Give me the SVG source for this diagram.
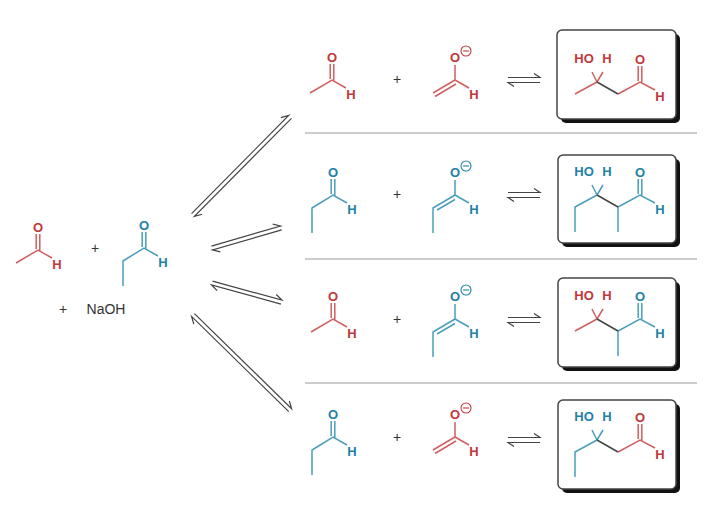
<svg xmlns="http://www.w3.org/2000/svg" xmlns:xlink="http://www.w3.org/1999/xlink" width="728" height="529" viewBox="0 0 728 529">
<style>
text{font-family:"Liberation Sans",Arial,sans-serif;text-anchor:middle}
.a{font-weight:bold;font-size:13px}
.r{fill:#c0393b}.t{fill:#1f82a6}
.br{stroke:#d0605f;stroke-width:1.5;fill:none}
.bt{stroke:#4a9dbb;stroke-width:1.5;fill:none}
.bk{stroke:#444;stroke-width:1.5;fill:none}
.eq{stroke:#444;stroke-width:1.2;fill:none}
.sep{stroke:#999;stroke-width:1}
.box{fill:#fff;stroke:#444;stroke-width:1.5}
.sh{fill:#111}
.plain{font-size:14px;fill:#333}
.mc{fill:none;stroke-width:1.1}
</style>
<defs>
<g id="aldR"><path class="br" d="M-22,13L0,0L14,8M-1.8,-1V-16M1.8,1V-16"/><text class="a r" x="0" y="-18.5">O</text><text class="a r" x="19" y="19">H</text></g>
<g id="aldT"><path class="bt" d="M-21,38V13L0,0L14,8M-1.8,-1V-16M1.8,1V-16"/><text class="a t" x="0" y="-18.5">O</text><text class="a t" x="19" y="19">H</text></g>
<g id="enR"><path class="br" d="M-22,13L0,0M-20,16.5L1,4M0,0V-15M0,0L14,8"/><text class="a r" x="0" y="-18.5">O</text><circle class="mc" cx="11" cy="-29" r="5" stroke="#c0393b"/><path d="M8,-29H14" stroke="#c0393b" stroke-width="1.1"/><text class="a r" x="19" y="19">H</text></g>
<g id="enT"><path class="bt" d="M-22,38V13L0,0M-18,15L0,4.5M0,0V-15M0,0L14,8"/><text class="a t" x="0" y="-18.5">O</text><circle class="mc" cx="11" cy="-29" r="5" stroke="#1f82a6"/><path d="M8,-29H14" stroke="#1f82a6" stroke-width="1.1"/><text class="a t" x="19" y="19">H</text></g>
<g id="eqs"><path class="eq" d="M0,-2.5H32L26,-6.5M32,2.5H0L6,6.5"/></g>
</defs>

<g id="start">
<use xlink:href="#aldR" x="38" y="250"/>
<text class="plain" x="95" y="253">+</text>
<use xlink:href="#aldT" x="144" y="248"/>
<text class="plain" x="63" y="314">+</text>
<text class="plain" x="106" y="314">NaOH</text>
</g>

<g id="connectors">
<g transform="translate(193,215) rotate(-45.3)"><path class="eq" d="M0,-2H138L131,-6M138,2H0L7,6"/></g>
<g transform="translate(212,248) rotate(-16.2)"><path class="eq" d="M0,-2H72L65,-6M72,2H0L7,6"/></g>
<g transform="translate(212,283) rotate(15.4)"><path class="eq" d="M0,-2H72L65,-6M72,2H0L7,6"/></g>
<g transform="translate(193,315) rotate(44.4)"><path class="eq" d="M0,-2H136L129,-6M136,2H0L7,6"/></g>
<use xlink:href="#eqs" x="508" y="80"/>
<use xlink:href="#eqs" x="508" y="195"/>
<use xlink:href="#eqs" x="508" y="320"/>
<use xlink:href="#eqs" x="508" y="440"/>
<path class="sep" d="M305,133H697M305,259H697M305,383H697"/>
</g>

<g id="row1">
<use xlink:href="#aldR" x="332" y="80"/>
<text class="plain" x="397" y="84">+</text>
<use xlink:href="#enR" x="455" y="80"/>
<rect class="sh" x="561" y="34" width="119" height="89" rx="5"/>
<rect class="box" x="557" y="30" width="119" height="89" rx="5"/>
<g transform="translate(597,82)">
<path class="br" d="M-22,12L0,0M0,0L-5,-10M0,0L6,-10M21,12L43,0L58,8M41.2,-1V-16M44.8,1V-16"/>
<path class="bk" d="M0,0L21,12"/>
<text class="a r" x="-13" y="-19">HO</text><text class="a r" x="10" y="-19">H</text><text class="a r" x="43" y="-18.5">O</text><text class="a r" x="63" y="19">H</text>
</g>
</g>

<g id="row2">
<use xlink:href="#aldT" x="333" y="195"/>
<text class="plain" x="397" y="199">+</text>
<use xlink:href="#enT" x="455" y="195"/>
<rect class="sh" x="562" y="159" width="118" height="88" rx="5"/>
<rect class="box" x="558" y="155" width="118" height="88" rx="5"/>
<g transform="translate(597,195)">
<path class="bt" d="M-22,37V12L0,0M0,0L-5,-10M0,0L6,-10M21,37V12L43,0L58,8M41.2,-1V-16M44.8,1V-16"/>
<path class="bk" d="M0,0L21,12"/>
<text class="a t" x="-13" y="-19">HO</text><text class="a t" x="10" y="-19">H</text><text class="a t" x="43" y="-18.5">O</text><text class="a t" x="63" y="19">H</text>
</g>
</g>

<g id="row3">
<use xlink:href="#aldR" x="333" y="319"/>
<text class="plain" x="397" y="324">+</text>
<use xlink:href="#enT" x="455" y="319"/>
<rect class="sh" x="562" y="282" width="118" height="89" rx="5"/>
<rect class="box" x="558" y="278" width="118" height="89" rx="5"/>
<g transform="translate(597,319)">
<path class="br" d="M-22,12L0,0M0,0L-5,-10M0,0L6,-10"/>
<path class="bt" d="M21,37V12L43,0L58,8M41.2,-1V-16M44.8,1V-16"/>
<path class="bk" d="M0,0L21,12"/>
<text class="a r" x="-13" y="-19">HO</text><text class="a r" x="10" y="-19">H</text><text class="a t" x="43" y="-18.5">O</text><text class="a t" x="63" y="19">H</text>
</g>
</g>

<g id="row4">
<use xlink:href="#aldT" x="333" y="437"/>
<text class="plain" x="397" y="442">+</text>
<use xlink:href="#enR" x="455" y="437"/>
<rect class="sh" x="562" y="404" width="118" height="89" rx="5"/>
<rect class="box" x="558" y="400" width="118" height="89" rx="5"/>
<g transform="translate(597,440)">
<path class="bt" d="M-22,37V12L0,0M0,0L-5,-10M0,0L6,-10"/>
<path class="br" d="M21,12L43,0L58,8M41.2,-1V-16M44.8,1V-16"/>
<path class="bk" d="M0,0L21,12"/>
<text class="a t" x="-13" y="-19">HO</text><text class="a t" x="10" y="-19">H</text><text class="a r" x="43" y="-18.5">O</text><text class="a r" x="63" y="19">H</text>
</g>
</g>
</svg>
